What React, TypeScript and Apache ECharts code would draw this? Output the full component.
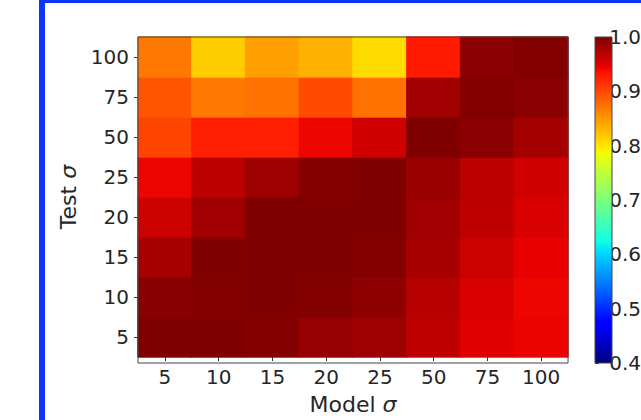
import React, { useEffect, useRef } from "react";
import * as echarts from "echarts";

const modelSigma = ["5", "10", "15", "20", "25", "50", "75", "100"];
const testSigma = ["5", "10", "15", "20", "25", "50", "75", "100"];

// rows: test sigma (bottom -> top), columns: model sigma
const row5 = [1.0, 1.0, 0.998, 0.988, 0.985, 0.967, 0.95, 0.944];
const row10 = [0.995, 0.999, 1.0, 0.999, 0.992, 0.971, 0.954, 0.943];
const row15 = [0.979, 1.0, 1.0, 1.0, 0.999, 0.979, 0.96, 0.946];
const row20 = [0.96, 0.983, 1.0, 1.0, 1.0, 0.983, 0.967, 0.954];
const row25 = [0.943, 0.969, 0.985, 0.998, 1.0, 0.986, 0.969, 0.958];
const row50 = [0.903, 0.926, 0.927, 0.943, 0.958, 1.0, 0.994, 0.981];
const row75 = [0.892, 0.869, 0.874, 0.899, 0.874, 0.983, 0.999, 0.994];
const row100 = [0.87, 0.816, 0.845, 0.834, 0.806, 0.929, 0.994, 0.999];

const rows = [row5, row10, row15, row20, row25, row50, row75, row100];

const colorbarTicks = [0.4, 0.5, 0.6, 0.7, 0.8, 0.9, 1.0];
const vMin = 0.4;
const vMax = 1.0;

function interp(t: number, pts: number[][]): number {
  for (let i = 1; i < pts.length; i++) {
    if (t <= pts[i][0]) {
      const [x0, y0] = pts[i - 1];
      const [x1, y1] = pts[i];
      return y0 + ((t - x0) / (x1 - x0)) * (y1 - y0);
    }
  }
  return pts[pts.length - 1][1];
}

function jet(t: number): string {
  t = Math.max(0, Math.min(1, t));
  const r = interp(t, [[0, 0], [0.35, 0], [0.66, 1], [0.89, 1], [1, 0.5]]);
  const g = interp(t, [[0, 0], [0.125, 0], [0.375, 1], [0.64, 1], [0.91, 0], [1, 0]]);
  const b = interp(t, [[0, 0.5], [0.11, 1], [0.34, 1], [0.65, 0], [1, 0]]);
  const h = (v: number) => Math.round(Math.max(0, Math.min(1, v)) * 255).toString(16).padStart(2, "0");
  return "#" + h(r) + h(g) + h(b);
}

const NSTOPS = 101;
const jetColors: string[] = [];
for (let i = 0; i < NSTOPS; i++) jetColors.push(jet(i / (NSTOPS - 1)));

export default function App() {
  const ref = useRef<HTMLDivElement>(null);
  useEffect(() => {
    if (!ref.current) return;
    const chart = echarts.init(ref.current, null, { renderer: "svg" });
    const data: any[] = [];
    rows.forEach((row, yi) =>
      row.forEach((v, xi) =>
        data.push({
          value: [xi, yi, v],
          itemStyle: { borderColor: jet((v - vMin) / (vMax - vMin)), borderWidth: 0.8 },
        })
      )
    );

    const font = "DejaVu Sans";
    const textColor = "#262626";
    const gridL = 138, gridT = 37, gridW = 430, gridH = 326;
    const cbL = 595, cbW = 17;
    const nameStyle = {
      fontSize: 22,
      color: textColor,
      fontFamily: font,
      rich: { i: { fontStyle: "italic", fontSize: 22, color: textColor, fontFamily: font } },
    };

    chart.setOption({
      animation: false,
      backgroundColor: "#ffffff",
      textStyle: { fontFamily: font },
      grid: [
        { left: gridL, top: gridT, width: gridW, height: gridH, show: false },
        { left: cbL, top: gridT, width: cbW, height: gridH, show: false },
      ],
      xAxis: [
        {
          type: "category",
          data: modelSigma,
          gridIndex: 0,
          name: "Model {i|σ}",
          nameLocation: "middle",
          nameGap: 36,
          nameTextStyle: nameStyle,
          axisLine: { show: false },
          axisTick: { show: true, alignWithLabel: true, length: 4, lineStyle: { color: "#333" } },
          axisLabel: { fontSize: 20, color: textColor, margin: 10, fontFamily: font },
          splitLine: { show: false },
        },
        { type: "value", gridIndex: 1, show: false, min: 0, max: 1 },
      ],
      yAxis: [
        {
          type: "category",
          data: testSigma,
          gridIndex: 0,
          name: "Test {i|σ}",
          nameLocation: "middle",
          nameGap: 58,
          nameRotate: 90,
          nameTextStyle: nameStyle,
          axisLine: { show: false },
          axisTick: { show: true, alignWithLabel: true, length: 4, lineStyle: { color: "#333" } },
          axisLabel: { fontSize: 20, color: textColor, margin: 9, fontFamily: font },
          splitLine: { show: false },
        },
        {
          type: "value",
          gridIndex: 1,
          position: "right",
          min: vMin,
          max: vMax,
          interval: 0.1,
          axisLine: { show: false },
          axisTick: { show: true, length: 4, lineStyle: { color: "#333" } },
          axisLabel: {
            fontSize: 20,
            color: textColor,
            margin: 10,
            fontFamily: font,
            formatter: (v: number) => {
              const match = colorbarTicks.find((t) => Math.abs(t - v) < 1e-6);
              return match !== undefined ? match.toFixed(1) : "";
            },
          },
          splitLine: { show: false },
        },
      ],
      visualMap: {
        show: false,
        type: "continuous",
        min: vMin,
        max: vMax,
        seriesIndex: 0,
        inRange: { color: jetColors },
      },
      graphic: [
        {
          type: "rect",
          z: 50,
          shape: { x: cbL, y: gridT, width: cbW, height: gridH },
          style: {
            fill: {
              type: "linear",
              x: 0,
              y: 0,
              x2: 0,
              y2: 1,
              colorStops: jetColors.map((c, i) => ({ offset: 1 - i / (NSTOPS - 1), color: c })).reverse(),
            },
            stroke: "#444",
            lineWidth: 1,
          },
        },
        {
          type: "rect",
          z: 100,
          shape: { x: gridL, y: gridT, width: gridW, height: gridH },
          style: { fill: "none", stroke: "#444", lineWidth: 1 },
        },
        {
          type: "rect",
          z: 100,
          shape: { x: 42, y: 0, width: 700, height: 500 },
          style: { fill: "none", stroke: "#0f33ff", lineWidth: 6 },
        },
      ],
      series: [
        {
          type: "heatmap",
          xAxisIndex: 0,
          yAxisIndex: 0,
          data,
          emphasis: { disabled: true },
        },
      ],
    });
    return () => chart.dispose();
  }, []);
  return (
    <div
      ref={ref}
      style={{ position: "fixed", left: 0, top: 0, width: 641, height: 420 }}
    />
  );
}
